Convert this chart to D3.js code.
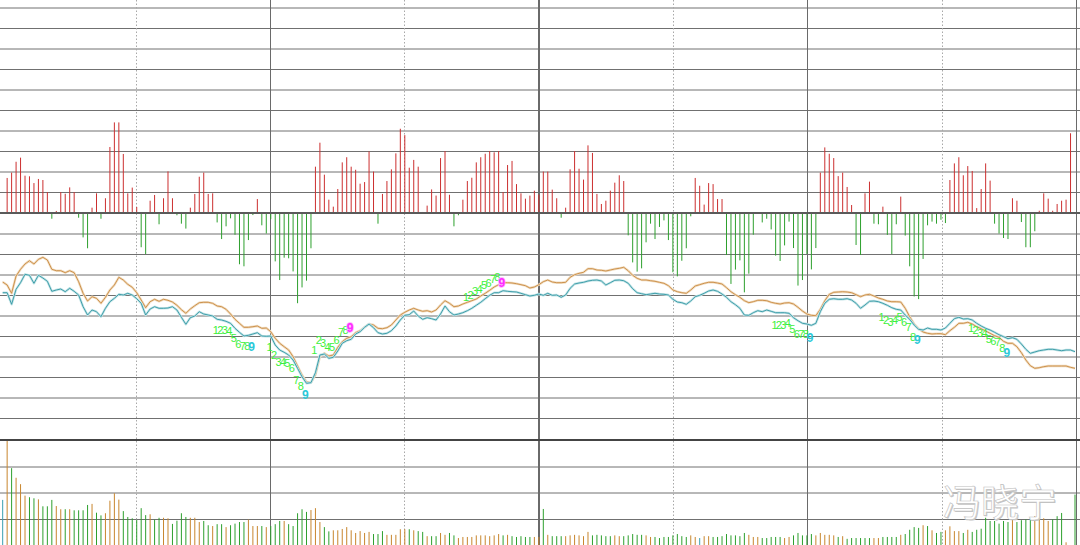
<!DOCTYPE html>
<html><head><meta charset="utf-8">
<script src="https://cdn.jsdelivr.net/npm/d3@7"></script>
<style>html,body{margin:0;padding:0;background:#fff;overflow:hidden}</style>
</head><body>
<svg id="c" width="1080" height="545"></svg>
<script>
// ---------------- DATA ----------------
const macd = [0,1.71,1.97,2.5,2.7,1.82,1.79,1.46,1.66,1.61,
1.02,-0.28,0.1,1.02,0.94,1.25,1.02,-0.23,-1.19,-1.72,
0.26,0.96,-0.28,0.72,3.22,4.42,4.42,2.88,0.96,1.24,
0.29,-1.67,-2.0,0.6,0.88,-0.55,0.72,2.03,0.72,-0.11,
-0.52,-0.76,0.26,0.93,1.77,1.97,0.93,0.96,-0.46,-1.27,
-0.65,-0.26,-1.06,-2.5,-2.6,-1.32,-0.1,0.68,-0.6,-1.0,
-0.3,-2.36,-3.27,-2.18,-2.21,-2.85,-4.4,-3.63,-3.3,-1.72,
2.26,3.43,1.87,0.65,0.31,1.17,2.47,2.72,2.26,2.11,
1.43,1.51,3.0,2.02,-0.52,0.93,1.56,2.13,2.91,4.11,
3.8,2.21,2.59,2.26,0.05,0.36,1.15,0.85,2.68,3.02,
0.89,-0.65,-0.11,0.65,1.56,1.72,2.47,2.72,2.89,3.02,
2.96,3.02,1.02,2.34,2.54,1.41,0.96,0.7,0.85,1.09,
0.9,2.02,2.02,1.14,0.72,-0.23,0.26,2.13,3.02,2.16,
1.63,3.3,2.93,0.93,0.44,0.6,1.09,1.48,1.84,1.56,
-1.09,-2.41,-2.86,-2.7,-1.43,-0.52,-1.27,-0.68,-0.36,-1.32,
-2.89,-3.09,-2.33,-1.72,-0.16,1.71,1.33,0.41,1.46,1.41,
0.68,0.68,-2.05,-3.46,-2.76,-2.31,-3.87,-2.96,-1.06,0,
-0.46,-0.28,-0.8,-2.08,-2.34,-1.58,-0.42,-1.71,-3.54,-3.27,
-2.0,-2.75,-1.71,1.97,3.2,2.89,2.68,1.8,1.97,1.27,
0.39,-1.56,-2.05,0.96,1.53,-0.52,-0.55,0.31,-1.07,-2.0,
-0.55,0.8,-1.1,-2.6,-4.07,-4.2,-2.24,-0.6,-0.42,-0.52,
-0.33,-0.49,1.61,2.42,2.72,1.84,2.29,2.05,0.24,1.17,
2.42,1.58,-0.52,-1.0,-1.22,-1.27,0.72,0.6,-0.44,-1.67,
-1.67,-0.89,0.11,0.96,0.7,0.11,0.44,0.6,0.65,3.89,
0];

const maSlow = [15.80,15.50,14.67,16.40,17.07,17.60,17.93,17.60,18.07,18.27,
18.00,17.07,16.93,16.93,16.73,16.93,16.73,15.83,14.67,13.90,
14.33,14.17,13.67,14.27,15.00,15.50,16.27,16.00,15.57,15.27,
14.73,14.00,13.23,13.83,14.07,13.87,14.07,13.97,13.80,13.47,
13.03,12.67,13.10,13.43,13.73,13.77,13.77,13.67,13.40,13.33,
13.07,12.60,12.07,11.67,11.27,11.27,11.33,11.40,11.17,11.20,
10.83,10.17,9.67,9.33,9.00,8.33,7.40,6.50,5.80,5.73,
6.50,8.33,8.67,8.40,8.50,9.27,9.83,10.17,10.33,10.73,
10.93,11.27,11.60,11.50,11.17,11.13,11.23,11.50,12.00,12.50,
12.77,13.00,13.17,13.00,12.87,12.93,12.80,13.00,13.50,13.93,
13.67,13.33,13.40,13.60,13.77,13.93,14.10,14.40,14.67,14.97,
15.30,15.53,15.73,15.73,15.70,15.63,15.53,15.43,15.20,15.30,
15.53,15.83,16.00,15.80,15.73,15.73,15.77,16.27,16.53,16.67,
16.77,17.13,17.13,17.00,16.97,16.90,17.00,17.10,17.17,17.27,
16.93,16.47,16.17,16.00,16.00,15.93,15.87,15.77,15.67,15.43,
15.00,14.83,14.73,14.67,15.00,15.40,15.53,15.67,15.77,15.77,
15.70,15.60,15.23,14.83,14.53,14.27,13.93,13.73,13.83,13.97,
13.97,13.93,13.77,13.67,13.60,13.70,13.73,13.60,13.27,12.90,
12.60,12.47,12.43,13.07,13.93,14.57,14.77,14.80,14.83,14.80,
14.73,14.53,14.33,14.50,14.57,14.40,14.20,14.07,13.90,13.83,
13.83,13.80,13.17,12.33,11.60,11.13,10.80,10.67,10.60,10.63,
10.63,10.53,10.93,11.27,11.67,11.67,11.77,11.60,11.33,11.13,
10.90,10.67,10.43,10.27,9.87,9.67,9.67,9.33,8.73,8.00,
7.43,7.17,7.23,7.33,7.40,7.40,7.40,7.40,7.40,7.27,
7.17];

const maFast = [14.73,14.73,13.57,15.07,15.73,16.57,16.47,15.67,16.47,16.20,
15.87,14.87,15.00,15.10,14.83,15.17,14.87,14.50,13.33,12.50,
13.00,12.83,12.33,13.17,13.83,14.17,14.57,14.50,14.67,14.50,
14.13,13.67,12.50,13.10,13.33,13.17,13.17,13.20,13.33,13.00,
12.27,11.57,12.23,12.40,12.83,12.60,12.50,12.40,12.07,12.00,
11.87,11.67,11.17,10.77,10.40,10.47,10.60,10.73,10.40,10.37,
10.40,9.50,9.00,8.77,8.50,8.00,7.17,6.33,5.67,5.73,
6.73,8.50,8.60,8.17,8.27,8.90,9.67,9.93,10.07,10.60,
10.83,11.27,11.60,11.23,10.73,10.60,10.67,10.93,11.40,12.00,
12.47,12.53,12.90,12.40,12.07,12.23,12.13,12.00,12.60,13.40,
12.83,12.50,12.60,12.73,12.93,13.17,13.47,13.77,14.13,14.47,
14.73,14.73,14.93,14.87,14.83,14.80,14.67,14.53,14.40,14.47,
14.60,14.47,14.67,14.47,14.50,14.27,14.50,15.17,15.60,15.70,
15.77,15.90,15.97,16.00,15.90,15.50,15.73,15.97,16.00,15.93,
15.67,15.13,14.73,14.63,14.53,14.60,14.67,14.60,14.57,14.50,
14.07,13.80,13.73,13.57,13.90,14.33,14.47,14.67,14.90,15.00,
14.87,14.60,14.27,13.83,13.53,13.17,12.50,12.47,12.73,12.93,
12.83,13.00,12.87,12.73,12.73,12.73,12.67,12.23,11.93,11.67,
11.60,11.47,11.67,12.83,13.67,14.07,14.13,14.07,14.07,14.13,
14.00,13.67,13.17,13.50,13.87,13.90,13.83,13.67,13.47,13.23,
13.07,13.00,12.50,12.07,11.50,11.07,11.00,11.20,11.07,11.07,
11.00,11.20,11.67,12.13,12.27,12.10,12.13,12.00,11.67,11.40,
11.17,11.00,10.77,10.53,10.33,10.13,10.23,10.07,9.60,9.07,
8.67,8.80,8.93,9.00,9.07,9.07,9.00,8.93,9.00,9.00,
8.83];

const volume = [174,396,293,257,233,190,184,180,176,150,
150,174,151,139,139,139,135,135,135,155,
159,126,116,124,171,199,175,132,110,105,
99,143,117,120,100,107,107,105,84,96,
124,110,107,107,91,95,79,76,83,83,
72,79,85,91,91,100,76,76,76,72,
76,83,95,95,83,76,124,139,129,136,
143,91,72,56,60,60,65,72,60,50,
57,50,54,46,46,57,43,43,43,64,
64,64,60,57,54,38,38,38,50,43,
50,41,31,35,35,35,41,41,41,38,
41,46,41,43,38,35,38,35,35,35,
35,140,43,38,38,38,38,41,43,41,
38,54,41,43,41,38,38,41,38,38,
41,46,43,43,41,35,35,31,35,35,
41,46,38,35,41,35,31,38,38,35,
35,38,46,41,41,38,50,43,35,35,
31,31,35,35,35,31,35,41,50,41,
41,46,41,50,43,43,41,35,38,28,
31,31,31,31,31,31,31,35,35,35,
35,43,46,62,72,69,79,76,60,50,
54,60,75,57,57,50,62,54,62,66,
107,95,95,85,95,91,107,91,98,101,
105,113,105,105,95,101,113,125,15,0,
194];

// u = up day (tan), d = down day (green), t = flat (teal)
const volDir = ("tuduuuddud" + "dduududddd" + "udduuuuddd" + "dddudduudd" +
  "dduuuddudd" + "udddduuudu" + "dddudddddu" + "uudduuuuuu" +
  "uuuddduuuu" + "ududdudduu" + "dduuuuuuuu" + "uududddddu" +
  "ududdduuuu" + "uuddddduud" + "dddduudddd" + "dddduutuud" +
  "ddddddduuu" + "ddddduuddd" + "dduuuuudud" + "ddddduuddd" +
  "duddddudud" + "duuuududdd" + "dddddduddd" + "duuuudddud" + "d").split("");

const tdDigits = ["1","2","3","4","5","6","7","8","9"];
const tdSeqs = [
  {start:48,  type:"buy",  levels:[11.0,11.0,11.0,10.95,10.2,9.6,9.4,9.4,9.33]},
  {start:60,  type:"buy",  levels:[9.33,8.5,7.83,7.83,7.7,7.2,6.0,5.4,4.5]},
  {start:70,  type:"sell", levels:[9.0,10.0,9.67,9.3,9.3,10.0,10.83,11.0,11.17]},
  {start:104, type:"sell", levels:[14.3,14.5,14.9,15.1,15.5,15.7,16.1,16.3,15.7]},
  {start:173, type:"buy",  levels:[11.5,11.5,11.5,11.7,11.1,10.6,10.6,10.6,10.17]},
  {start:197, type:"buy",  levels:[12.3,12.0,11.83,12.0,12.33,11.83,11.27,10.33,10.0]},
  {start:217, type:"buy",  levels:[11.2,11.0,10.7,10.7,10.1,9.93,9.83,9.17,8.73]}
];
const watermark = "冯晓宁";

// ---------------- CHART ----------------
const W = 1080, H = 545;
const svg = d3.select("#c");
const n = macd.length;

const x = d3.scaleLinear().domain([0, n - 1]).range([2.67, 1075]);
const yM = d3.scaleLinear().domain([0, 1]).range([213, 192.5]);   // macd units
const yP = d3.scaleLinear().domain([0, 10]).range([440, 340]);    // price
const yV = d3.scaleLinear().domain([0, 100]).range([546.3, 519.63]); // volume
const xg = d3.scaleLinear().domain([0, 8]).range([1.8, 1076.6]);   // time grid

const grid = svg.append("g");
// horizontal gridlines (upper area)
const hLines = [];
for (let k = 1; k <= 10; k++) hLines.push(yM(k));
for (let k = 1; k <= 10; k++) hLines.push(yM(-k) + 0.5);
grid.selectAll("line.h").data(hLines).join("line")
  .attr("x1", 0).attr("x2", W).attr("y1", d => d).attr("y2", d => d)
  .attr("stroke", "#707070").attr("stroke-width", 1);
// volume panel gridlines
const vLines = [300, 200, 100];
grid.selectAll("line.v").data(vLines).join("line")
  .attr("x1", 0).attr("x2", W)
  .attr("y1", d => Math.round(yV(d) * 2) / 2 + (d === 300 ? 0.5 : 0))
  .attr("y2", d => Math.round(yV(d) * 2) / 2 + (d === 300 ? 0.5 : 0))
  .attr("stroke", "#707070").attr("stroke-width", 1);

// vertical time grid
const vk = [1,2,3,4,5,6,7,8];
grid.selectAll("line.t").data(vk).join("line")
  .attr("x1", d => d === 4 ? Math.round(xg(d)) : Math.floor(xg(d)) + 0.5)
  .attr("x2", d => d === 4 ? Math.round(xg(d)) : Math.floor(xg(d)) + 0.5)
  .attr("y1", 0).attr("y2", H)
  .attr("stroke", d => d % 2 ? "#a8a8a8" : "#6a6a6a")
  .attr("stroke-width", d => d === 4 ? 2 : 1)
  .attr("stroke-dasharray", d => d % 2 ? "1.5,2" : null);

// macd bars
svg.append("g").selectAll("rect").data(macd.map((v, i) => ({v, i})).filter(d => d.v !== 0)).join("rect")
  .attr("x", d => x(d.i) - 0.5).attr("width", 1)
  .attr("y", d => Math.min(yM(d.v), yM(0)))
  .attr("height", d => Math.abs(yM(d.v) - yM(0)))
  .attr("fill", d => d.v > 0 ? "#cc3030" : "#2ea02e");

// volume bars
const vColor = {u: "#c8862e", d: "#2ea02e", t: "#3a9fb0"};
svg.append("g").selectAll("rect").data(volume.map((v, i) => ({v, i})).filter(d => d.v > 0)).join("rect")
  .attr("x", d => x(d.i) - 0.5).attr("width", 1)
  .attr("y", d => yV(d.v)).attr("height", d => yV(0) - yV(d.v))
  .attr("fill", d => vColor[volDir[d.i]]);

// zero line & separator
svg.append("line").attr("x1", 0).attr("x2", W).attr("y1", yM(0)).attr("y2", yM(0))
  .attr("stroke", "#5a5a5a").attr("stroke-width", 2);
svg.append("line").attr("x1", 0).attr("x2", W).attr("y1", 440).attr("y2", 440)
  .attr("stroke", "#444").attr("stroke-width", 2);

// moving-average lines
const line = d3.line().x((d, i) => x(i)).y(d => yP(d));
[[maSlow, "#f0dcc0", "#c8893f"], [maFast, "#c4e4e7", "#3096a3"]].forEach(([data, halo, core]) => {
  svg.append("path").attr("d", line(data)).attr("fill", "none")
    .attr("stroke", halo).attr("stroke-width", 2.4).attr("stroke-linejoin", "round");
  svg.append("path").attr("d", line(data)).attr("fill", "none")
    .attr("stroke", core).attr("stroke-width", 0.9).attr("stroke-linejoin", "round");
});

// TD sequential counts
const labels = [];
tdSeqs.forEach(s => s.levels.forEach((lv, k) => labels.push({i: s.start + k, lv, t: tdDigits[k], type: s.type, last: k === 8})));
svg.append("g").selectAll("text").data(labels).join("text")
  .attr("x", d => x(d.i) - 1.2).attr("y", d => yP(d.lv) + 4)
  .attr("text-anchor", "middle")
  .attr("font-family", "Liberation Sans, Arial, sans-serif")
  .attr("font-size", d => d.last ? 12 : 11)
  .attr("font-weight", d => d.last ? "bold" : "normal")
  .attr("fill", d => d.last ? (d.type === "buy" ? "#2cc8d8" : "#ff2cff") : "#3cf03c")
  .attr("stroke", d => d.last && d.type === "sell" ? "#ffb0ff" : null)
  .attr("stroke-width", d => d.last && d.type === "sell" ? 1.5 : null)
  .attr("paint-order", "stroke")
  .text(d => d.t);

// watermark
const wm = svg.append("g").attr("font-family", "Noto Sans CJK SC").attr("font-size", 38);
wm.append("text").attr("x", 944).attr("y", 517).attr("fill", "#c4c4c4").text(watermark);
wm.append("text").attr("x", 943).attr("y", 516).attr("fill", "#fff")
  .attr("stroke", "#c0c0c0").attr("stroke-width", 0.6).text(watermark);
</script>
</body></html>
